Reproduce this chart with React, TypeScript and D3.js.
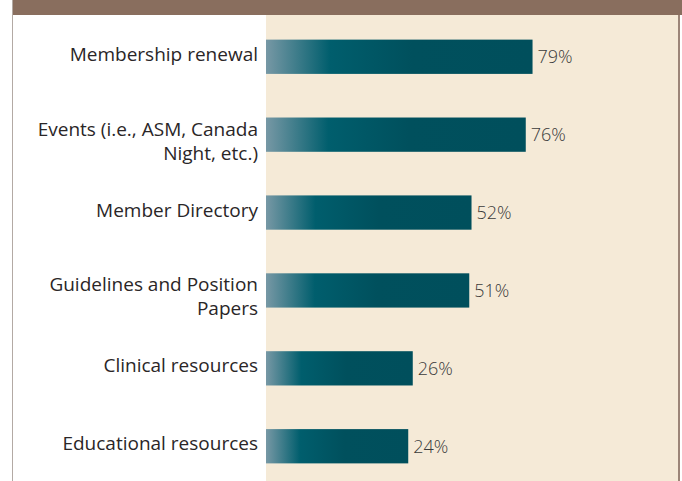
import * as d3 from 'd3'
import { useEffect, useRef } from 'react'

// benefits, in the order they appear
const categories: string[] = [
  'Membership renewal',
  'Events (i.e., ASM, Canada Night, etc.)',
  'Member Directory',
  'Guidelines and Position Papers',
  'Clinical resources',
  'Educational resources',
]

// how each label is broken over lines
const labelLines: string[][] = [
  ['Membership renewal'],
  ['Events (i.e., ASM, Canada', 'Night, etc.)'],
  ['Member Directory'],
  ['Guidelines and Position', 'Papers'],
  ['Clinical resources'],
  ['Educational resources'],
]

const values: number[] = [79, 76, 52, 51, 26, 24]

export default function App() {
  const ref = useRef<HTMLDivElement>(null)

  useEffect(() => {
    if (!ref.current) return
    ref.current.innerHTML = ''

    const width = 682
    const height = 481
    const panelLeft = 13
    const plotLeft = 266
    const plotRight = 678
    const headerH = 15

    const svg = d3
      .select(ref.current)
      .append('svg')
      .attr('width', width)
      .attr('height', height)
      .attr('viewBox', [0, 0, width, height].join(' '))
      .style('position', 'absolute')
      .style('left', '0px')
      .style('top', '0px')
      .style('font-family', '"Open Sans", sans-serif')

    // gradient for bars
    const grad = svg
      .append('defs')
      .append('linearGradient')
      .attr('id', 'barGrad')
      .attr('x1', '0%')
      .attr('x2', '100%')
    grad.append('stop').attr('offset', '0%').attr('stop-color', '#7798a5')
    grad.append('stop').attr('offset', '24%').attr('stop-color', '#005e6d')
    grad.append('stop').attr('offset', '55%').attr('stop-color', '#00505d')
    grad.append('stop').attr('offset', '100%').attr('stop-color', '#004f5c')

    // background panels
    svg.append('rect').attr('x', 0).attr('y', 0).attr('width', width).attr('height', height).attr('fill', '#ffffff')
    svg
      .append('rect')
      .attr('x', plotLeft)
      .attr('y', headerH)
      .attr('width', plotRight - plotLeft)
      .attr('height', height - headerH)
      .attr('fill', '#f5ead7')
    svg
      .append('rect')
      .attr('x', panelLeft)
      .attr('y', 0)
      .attr('width', width - panelLeft)
      .attr('height', headerH)
      .attr('fill', '#896e5e')
    svg
      .append('line')
      .attr('x1', panelLeft - 0.5)
      .attr('x2', panelLeft - 0.5)
      .attr('y1', 0)
      .attr('y2', height)
      .attr('stroke', '#b3aaa4')
      .attr('stroke-width', 1)
    svg
      .append('rect')
      .attr('x', plotRight)
      .attr('y', headerH)
      .attr('width', 2)
      .attr('height', height - headerH)
      .attr('fill', '#9c8578')

    // bar length scale (the source art is not strictly proportional)
    const x = d3.scaleLinear().domain([0, 100]).range([plotLeft + 88, plotLeft + 314])
    const y = d3.scaleBand<string>().domain(categories).range([-4, 507]).padding(0.56)

    const row = svg
      .selectAll('g.row')
      .data(categories)
      .join('g')
      .attr('class', 'row')

    row
      .append('rect')
      .attr('x', plotLeft)
      .attr('y', d => y(d) as number)
      .attr('width', (d, i) => x(values[i]) - plotLeft)
      .attr('height', y.bandwidth())
      .attr('fill', 'url(#barGrad)')

    row
      .append('text')
      .attr('x', (d, i) => x(values[i]) + 5)
      .attr('y', d => (y(d) as number) + y.bandwidth() / 2 + 6.5)
      .attr('font-size', 18)
      .attr('font-weight', 300)
      .attr('fill', '#3a3a3a')
      .text((d, i) => `${values[i]}%`)

    row
      .append('text')
      .attr('text-anchor', 'end')
      .attr('font-size', 19)
      .attr('fill', '#2a2627')
      .selectAll('tspan')
      .data((d, i) => labelLines[i].map((t, j, arr) => ({ t, j, n: arr.length, cat: d })))
      .join('tspan')
      .attr('x', 258)
      .attr('y', o => {
        const c = (y(o.cat) as number) + y.bandwidth() / 2
        return o.n === 1 ? c + 4 : c + 1 + o.j * 24
      })
      .text(o => o.t)
  }, [])

  return <div ref={ref} />
}
